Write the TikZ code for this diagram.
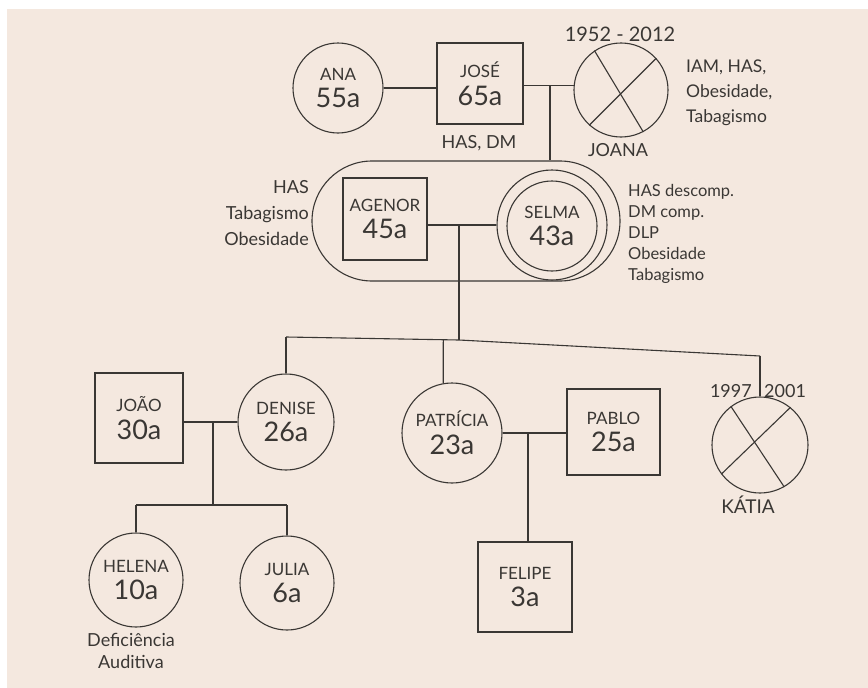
\documentclass[tikz,border=0pt]{standalone}
\usepackage{fontspec}
\setmainfont{Lato}
\definecolor{paper}{RGB}{244,232,223}
\definecolor{inkc}{RGB}{58,55,52}
\newcommand{\nm}{\fontsize{17}{20}\selectfont}
\newcommand{\ag}{\fontsize{27}{30}\selectfont}
% name on the first line, age on the second
\newcommand{\who}[2]{\nm #1\\[7pt]\ag #2}
\newcommand{\fs}[2]{\fontsize{#1}{#2}\selectfont}
\begin{document}
\begin{tikzpicture}[x=1pt,y=-1pt,
  ink/.style={draw=inkc, line width=1.1pt},
  person/.style={ink, inner sep=0pt, align=center, text=inkc},
  fem/.style={person, circle, minimum size=#1},
  masc/.style 2 args={person, rectangle, minimum width=#1, minimum height=#2},
  note/.style={text=inkc, inner sep=0pt, font=\fs{17}{21}},
  link/.style={ink}
]
\useasboundingbox (0,0) rectangle (868,688);
\fill[white] (0,0) rectangle (868,688);
\fill[paper] (7,9) rectangle (868,688);

% first generation
\node[fem=90pt] (ana) at (338,88) {\who{ANA}{55a}};
\node[masc={86pt}{81pt}] (jose) at (480,83.5) {\who{JOSÉ}{65a}};
\node[fem=94pt] (joana) at (621,90) {};
\draw[link] (joana.124) -- (joana.-62) (joana.42) -- (joana.228);
\node[note, font=\fs{20}{22}] (joanadates) at (620,34) {1952 - 2012};
\node[note, font=\fs{18}{20}] (josenote) at (479,143) {HAS, DM};
\node[note, font=\fs{18}{20}] (joananame) at (618,150) {JOANA};
\node[note, anchor=north west, align=left, font=\fs{17.5}{25}] (joananote) at (686,60) {IAM, HAS,\\Obesidade,\\Tabagismo};

% second generation, enclosed couple
\node[ink, rounded corners=60pt, minimum width=308pt, minimum height=120pt, inner sep=0pt] (casal) at (466,221) {};
\node[masc={84pt}{82pt}] (agenor) at (385,219) {\who{AGENOR}{45a}};
\node[fem=110pt] (selma) at (552,225) {};
\node[fem=90pt] (selmain) at (552,226) {\who{SELMA}{43a}};
\node[note, anchor=north east, align=right, font=\fs{18}{26}] (agenornote) at (309,180) {HAS\\Tabagismo\\Obesidade};
\node[note, anchor=north west, align=left, font=\fs{16.5}{21}] (selmanote) at (628,184) {HAS descomp.\\DM comp.\\DLP\\Obesidade\\Tabagismo};

% third generation
\node[masc={88pt}{90pt}] (joao) at (139,418) {\who{JOÃO}{30a}};
\node[fem=96pt] (denise) at (286,422) {\who{DENISE}{26a}};
\node[fem=100pt] (patricia) at (452,433) {\who{PATRÍCIA}{23a}};
\node[masc={93pt}{86pt}] (pablo) at (613.5,432) {\who{PABLO}{25a}};
\node[fem=96pt] (katia) at (760,445) {};
\draw[link] (katia.127) -- (katia.-60) (katia.51) -- (katia.217);
\node[note, anchor=south east, font=\fs{18}{20}] (katiaborn) at (752,398) {1997};
\node[note, anchor=south west, font=\fs{18}{20}] (katiadied) at (764,398) {2001};
\node[note, font=\fs{19}{20}] (katianame) at (748,505) {KÁTIA};

% fourth generation
\node[fem=94pt] (helena) at (136,580) {\who{HELENA}{10a}};
\node[fem=94pt] (julia) at (287,583) {\who{JULIA}{6a}};
\node[masc={94pt}{90pt}] (felipe) at (525,587) {\who{FELIPE}{3a}};
\node[note, align=center, font=\fs{18}{22}] (helenanote) at (131,651) {Deficiência\\Auditiva};

% marriage and descent lines
\coordinate (m1) at (550,86);
\draw[link] (ana.east) -- (jose.west |- ana.east);
\draw[link] (jose.east |- joana.175) -- (joana.175);
\draw[link] (m1) -- (m1 |- casal.north);

\coordinate (m2) at (459,225);
\draw[link] (agenor.east |- m2) -- (selma.west);
\coordinate (b1) at (286,337);
\coordinate (b2) at (459,340);
\coordinate (b3) at (760,356);
\coordinate (b4) at (443.3,339.7);
\draw[link] (m2) -- (b2);
\draw[link] (b1) -- (b2) -- (b3);
\draw[link] (b1) -- (denise.north);
\draw[link] (b4) -- (patricia.100);
\draw[link] (b3) -- (katia.north);

\coordinate (m3) at (213,422);
\coordinate (c0) at (213,505);
\draw[link] (joao.east |- denise.west) -- (denise.west);
\draw[link] (m3) -- (c0);
\draw[link] (helena.north |- c0) -- (julia.north |- c0);
\draw[link] (helena.north |- c0) -- (helena.north);
\draw[link] (julia.north |- c0) -- (julia.north);

\coordinate (m4) at (528,433);
\draw[link] (patricia.east) -- (pablo.west |- patricia.east);
\draw[link] (m4) -- (m4 |- felipe.north);
\end{tikzpicture}
\end{document}
